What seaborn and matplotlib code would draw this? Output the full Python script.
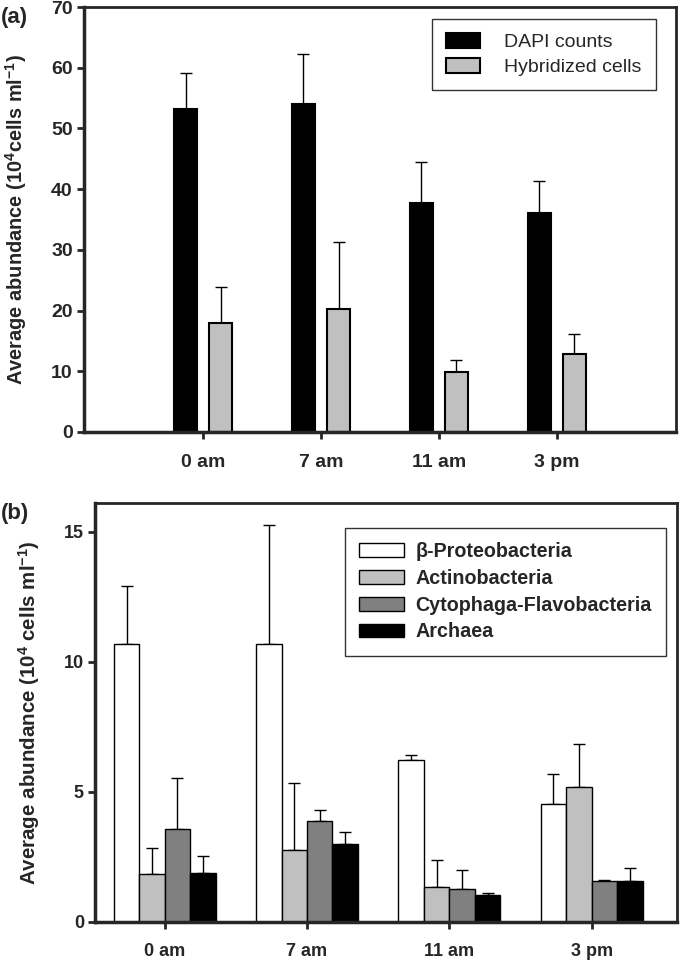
import numpy as np
import pandas as pd
import matplotlib
matplotlib.use("Agg")
import matplotlib.pyplot as plt
import seaborn as sns

# ---------------- data ----------------
times = ["0 am", "7 am", "11 am", "3 pm"]

groups_a = ["DAPI counts", "Hybridized cells"]
dapi_mean = [53.2, 54.0, 37.7, 36.1]
dapi_sd = [5.9, 8.2, 6.7, 5.25]
hyb_mean = [17.9, 20.2, 9.8, 12.8]
hyb_sd = [5.9, 11.05, 2.05, 3.4]

groups_b = ["β-Proteobacteria", "Actinobacteria", "Cytophaga-Flavobacteria", "Archaea"]
beta_mean = [10.67, 10.7, 6.22, 4.52]
beta_sd = [2.23, 4.56, 0.19, 1.18]
actino_mean = [1.84, 2.76, 1.33, 5.18]
actino_sd = [1.02, 2.57, 1.06, 1.64]
cyto_mean = [3.57, 3.88, 1.28, 1.58]
cyto_sd = [1.96, 0.42, 0.72, 0.04]
arch_mean = [1.88, 3.0, 1.05, 1.56]
arch_sd = [0.64, 0.47, 0.06, 0.53]

colors_a = ["#000000", "#c0c0c0"]
colors_b = ["#ffffff", "#c0c0c0", "#808080", "#000000"]

# ---------------- style ----------------
sns.set_style("ticks")
plt.rcParams["font.family"] = ["Liberation Sans", "DejaVu Sans"]
plt.rcParams["mathtext.fontset"] = "custom"
plt.rcParams["mathtext.rm"] = "Liberation Sans"
plt.rcParams["mathtext.bf"] = "Liberation Sans:bold"
plt.rcParams["mathtext.default"] = "bf"


def long_df(groups, means, sds):
    rows = []
    for g, m, s in zip(groups, means, sds):
        for t, mv, sv in zip(times, m, s):
            rows.append({"time": t, "group": g, "value": mv, "sd": sv})
    return pd.DataFrame(rows)


df_a = long_df(groups_a, [dapi_mean, hyb_mean], [dapi_sd, hyb_sd])
df_b = long_df(groups_b, [beta_mean, actino_mean, cyto_mean, arch_mean],
               [beta_sd, actino_sd, cyto_sd, arch_sd])

fig = plt.figure(figsize=(6.8, 9.61), dpi=100)
ax_a = fig.add_axes([0.1235, 0.5505, 0.8705, 0.4422])
ax_b = fig.add_axes([0.1397, 0.0406, 0.8559, 0.4360])


def add_errors(ax, df, groups, capsize, elw):
    for cont, g in zip(ax.containers, groups):
        sds = df[df.group == g].set_index("time").loc[times, "sd"].values
        xs = [p.get_x() + p.get_width() / 2 for p in cont.patches]
        ys = [p.get_height() for p in cont.patches]
        ax.errorbar(xs, ys, yerr=[np.zeros(len(sds)), sds], fmt="none",
                    ecolor="black", elinewidth=elw, capsize=capsize,
                    capthick=elw, zorder=1)


def style_axes(ax, lw_main, lw_other, size, xpad):
    for s in ["left", "bottom"]:
        ax.spines[s].set_linewidth(lw_main)
    for s in ["top", "right"]:
        ax.spines[s].set_visible(True)
        ax.spines[s].set_linewidth(lw_other)
    ax.tick_params(axis="x", direction="out", length=5, width=2, pad=xpad,
                   labelsize=size)
    ax.tick_params(axis="y", direction="out", length=5, width=2, pad=3,
                   labelsize=size)
    for lab in ax.get_xticklabels() + ax.get_yticklabels():
        lab.set_fontweight("bold")
    ax.set_xlabel("")


# ---------------- panel (a) ----------------
sns.barplot(data=df_a, x="time", y="value", hue="group", order=times,
            hue_order=groups_a, palette=colors_a, width=0.594, gap=0.36,
            edgecolor="black", linewidth=1.5, errorbar=None, ax=ax_a,
            saturation=1, zorder=2)
add_errors(ax_a, df_a, groups_a, 4.3, 1.0)
ax_a.set_xlim(-1.01, 4.01)
ax_a.set_ylim(0, 70)
ax_a.set_yticks(np.arange(0, 71, 10))
ax_a.set_ylabel(r"Average abundance (10$^{4}$cells ml$^{-1}$)",
                fontsize=14.4, fontweight="bold", labelpad=16)
style_axes(ax_a, 2.5, 2.0, 14, 11)
leg = ax_a.legend(loc="upper left", bbox_to_anchor=(0.588, 0.972),
                  borderaxespad=0, frameon=True, fancybox=False,
                  edgecolor="black", fontsize=14, handlelength=1.75,
                  handleheight=0.8, labelspacing=0.36, borderpad=0.72,
                  handletextpad=1.25)
leg.get_frame().set_linewidth(1.0)

# ---------------- panel (b) ----------------
sns.barplot(data=df_b, x="time", y="value", hue="group", order=times,
            hue_order=groups_b, palette=colors_b, width=0.716, gap=0,
            edgecolor="black", linewidth=1.0, errorbar=None, ax=ax_b,
            saturation=1, zorder=2)
add_errors(ax_b, df_b, groups_b, 4.5, 1.0)
ax_b.set_xlim(-0.49, 3.6)
ax_b.set_ylim(0, 16.1)
ax_b.set_yticks([0, 5, 10, 15])
ax_b.set_ylabel(r"Average abundance (10$^{4}$ cells ml$^{-1}$)",
                fontsize=14.8, fontweight="bold", labelpad=16)
style_axes(ax_b, 2.5, 2.0, 13, 10)
leg = ax_b.legend(loc="upper left", bbox_to_anchor=(0.4296, 0.940),
                  borderaxespad=0, frameon=True, fancybox=False,
                  edgecolor="black", prop={"size": 14.2, "weight": "bold"},
                  handlelength=2.28, handleheight=0.71, labelspacing=0.39,
                  borderpad=0.72, handletextpad=0.56)
leg.get_frame().set_linewidth(1.0)

fig.text(0.002, 0.993, "(a)", fontsize=16, fontweight="bold", va="top")
fig.text(0.002, 0.477, "(b)", fontsize=16, fontweight="bold", va="top")

fig.savefig("out.png", dpi=100)
